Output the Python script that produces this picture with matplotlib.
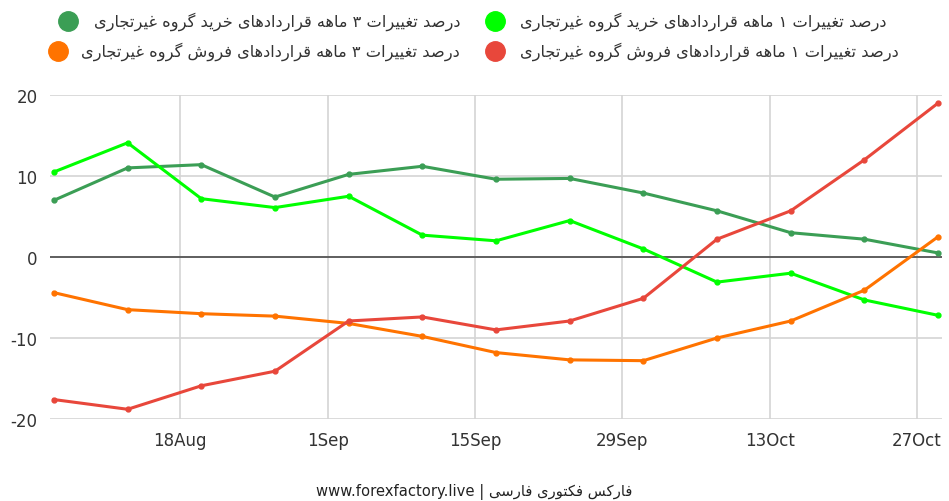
import datetime as dt
import matplotlib
matplotlib.use("Agg")
import matplotlib.pyplot as plt
import matplotlib.dates as mdates
from matplotlib.lines import Line2D

plt.rcParams["axes.unicode_minus"] = False

# weekly COT report dates (Tuesdays)
dates = [dt.datetime(2024, 8, 6) + dt.timedelta(days=7 * i) for i in range(13)]

buy_3m = [7.0, 11.0, 11.4, 7.4, 10.2, 11.2, 9.6, 9.7, 7.9, 5.7, 3.0, 2.2, 0.5]
buy_1m = [10.5, 14.1, 7.2, 6.1, 7.5, 2.7, 2.0, 4.5, 1.0, -3.1, -2.0, -5.3, -7.2]
sell_3m = [-4.4, -6.5, -7.0, -7.3, -8.2, -9.8, -11.8, -12.7, -12.8, -10.0, -7.9, -4.1, 2.5]
sell_1m = [-17.6, -18.8, -15.9, -14.1, -7.9, -7.4, -9.0, -7.9, -5.1, 2.2, 5.7, 12.0, 19.0]

labels = [
    "درصد تغییرات ۳ ماهه قراردادهای خرید گروه غیرتجاری",
    "درصد تغییرات ۱ ماهه قراردادهای خرید گروه غیرتجاری",
    "درصد تغییرات ۳ ماهه قراردادهای فروش گروه غیرتجاری",
    "درصد تغییرات ۱ ماهه قراردادهای فروش گروه غیرتجاری",
]
footer_fa = "فارکس فکتوری فارسی"
colors = ["#3b9e55", "#00ff00", "#ff7300", "#e8473b"]

# --- tiny Arabic/Persian shaper: (isolated, final, initial, medial) ---
FORMS = {
    "ا": ("\uFE8D", "\uFE8E"), "د": ("\uFEA9", "\uFEAA"), "ر": ("\uFEAD", "\uFEAE"),
    "ز": ("\uFEAF", "\uFEB0"), "و": ("\uFEED", "\uFEEE"), "ژ": ("\uFB8A", "\uFB8B"),
    "ب": ("\uFE8F", "\uFE90", "\uFE91", "\uFE92"), "ت": ("\uFE95", "\uFE96", "\uFE97", "\uFE98"),
    "ج": ("\uFE9D", "\uFE9E", "\uFE9F", "\uFEA0"), "خ": ("\uFEA5", "\uFEA6", "\uFEA7", "\uFEA8"),
    "س": ("\uFEB1", "\uFEB2", "\uFEB3", "\uFEB4"), "ش": ("\uFEB5", "\uFEB6", "\uFEB7", "\uFEB8"),
    "ص": ("\uFEB9", "\uFEBA", "\uFEBB", "\uFEBC"), "غ": ("\uFECD", "\uFECE", "\uFECF", "\uFED0"),
    "ف": ("\uFED1", "\uFED2", "\uFED3", "\uFED4"), "ق": ("\uFED5", "\uFED6", "\uFED7", "\uFED8"),
    "ل": ("\uFEDD", "\uFEDE", "\uFEDF", "\uFEE0"), "م": ("\uFEE1", "\uFEE2", "\uFEE3", "\uFEE4"),
    "ن": ("\uFEE5", "\uFEE6", "\uFEE7", "\uFEE8"), "ه": ("\uFEE9", "\uFEEA", "\uFEEB", "\uFEEC"),
    "ی": ("\uFBFC", "\uFBFD", "\uFBFE", "\uFBFF"), "ک": ("\uFB8E", "\uFB8F", "\uFB90", "\uFB91"),
    "گ": ("\uFB92", "\uFB93", "\uFB94", "\uFB95"),
}


def shape_rtl(text):
    out = []
    for i, ch in enumerate(text):
        f = FORMS.get(ch)
        if f is None:
            out.append(ch)
            continue
        prev = text[i - 1] if i > 0 else ""
        nxt = text[i + 1] if i + 1 < len(text) else ""
        join_prev = prev in FORMS and len(FORMS[prev]) == 4
        join_next = len(f) == 4 and nxt in FORMS
        if join_prev and join_next:
            out.append(f[3])
        elif join_prev:
            out.append(f[1])
        elif join_next:
            out.append(f[2])
        else:
            out.append(f[0])
    return "".join(reversed(out))


fig = plt.figure(figsize=(9.49, 5.02), dpi=100)
ax = fig.add_axes([50 / 949, 1 - 420 / 502, 892 / 949, 324 / 502])

series = [buy_3m, buy_1m, sell_3m, sell_1m]
for vals, c in zip(series, colors):
    ax.plot(dates, vals, color=c, lw=2.2, marker="o", ms=3.5, zorder=3)

ax.axhline(0, color="#555555", lw=1.3, zorder=2)
ax.set_ylim(-20, 20)
ax.set_yticks([-20, -10, 0, 10, 20])
pad = dt.timedelta(hours=9)
ax.set_xlim(dates[0] - pad, dates[-1] + pad)
ticks = [dt.datetime(2024, 8, 18) + dt.timedelta(days=14 * i) for i in range(6)]
ax.set_xticks(ticks)
ax.xaxis.set_major_formatter(mdates.DateFormatter("%-d%b"))
ax.grid(True, color="#d4d4d4", lw=1.2, zorder=1)
for s in ax.spines.values():
    s.set_visible(False)
ax.tick_params(length=0, labelsize=12, colors="#333333", pad=9)
ax.tick_params(axis="x", pad=9)

# legend (manual, two columns)
leg = [(labels[0], colors[0], 0.957, 460, 68, "right"),
       (labels[1], colors[1], 0.957, 520, 495, "left"),
       (labels[2], colors[2], 0.897, 460, 58, "right"),
       (labels[3], colors[3], 0.897, 520, 495, "left")]
for text, c, y, tx, cx, ha in leg:
    fig.text(tx / 949, y, shape_rtl(text), ha=ha, va="center", fontsize=11.7, color="#333333")
    fig.add_artist(Line2D([cx / 949], [y], marker="o", ms=14, color=c, transform=fig.transFigure))

fig.text(0.5, 0.02, "www.forexfactory.live | " + shape_rtl(footer_fa),
         ha="center", va="center", fontsize=10.6, color="#222222")

fig.savefig("out.png", dpi=100)
